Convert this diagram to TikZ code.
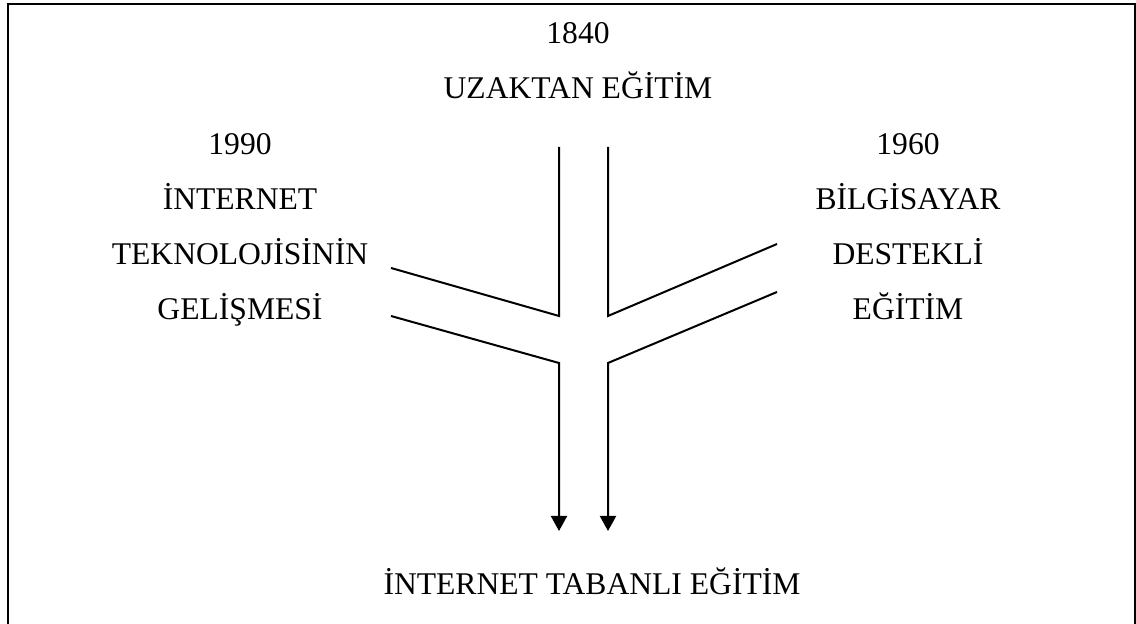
\documentclass[tikz,border=0pt]{standalone}
\usepackage{fontspec}
\setmainfont{Liberation Serif}
\usetikzlibrary{arrows.meta}

\begin{document}
\begin{tikzpicture}[x=0.5pt,y=-0.5pt,
    txt/.style={font=\fontsize{15.8}{27.5}\selectfont,align=center,inner sep=0pt,anchor=base},
    channel/.style={line width=1pt},
    flow/.style={line width=1pt,-{Triangle[length=7.5pt,width=8pt]}}]
            \useasboundingbox (0,0) rectangle (1136,624);
            % Frame
            \draw[line width=1pt] (8,624) -- (8,4) -- (1135,4) -- (1135,624);

            % Texts (anchored at the baseline of their last line)
            \node[txt] (uzaktan) at (578,99) {1840\\UZAKTAN EĞİTİM};
            \node[txt] (internet) at (240,320) {1990\\İNTERNET\\TEKNOLOJİSİNİN\\GELİŞMESİ};
            \node[txt] (bilgisayar) at (908,320) {1960\\BİLGİSAYAR\\DESTEKLİ\\EĞİTİM};
            \node[txt] (sonuc) at (592,595) {İNTERNET TABANLI EĞİTİM};

            % Channel points
            \coordinate (topL) at (559,147);
            \coordinate (topR) at (608,147);
            \coordinate (joinL) at (559,316);
            \coordinate (joinR) at (608,316);
            \coordinate (inL1) at (391,268);
            \coordinate (inL2) at (391,316);
            \coordinate (inR1) at (777,244);
            \coordinate (inR2) at (777,292);
            \coordinate (midL) at (559,363);
            \coordinate (midR) at (608,363);
            \coordinate (endL) at (559,531);
            \coordinate (endR) at (608,531);

            % Channels
            \draw[channel] (inL1) -- (joinL) -- (topL);
            \draw[channel] (topR) -- (joinR) -- (inR1);
            \draw[flow] (inL2) -- (midL) -- (endL);
            \draw[flow] (inR2) -- (midR) -- (endR);
        \end{tikzpicture}
\end{document}
